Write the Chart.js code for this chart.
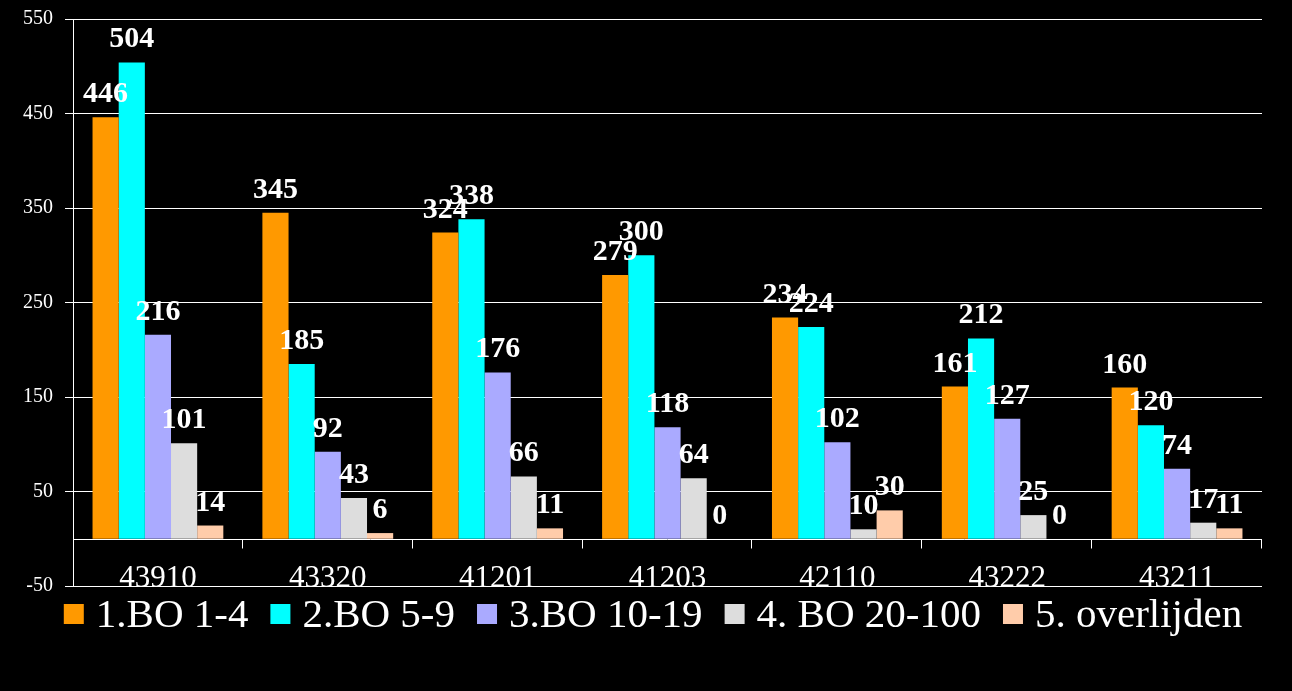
<!DOCTYPE html>
<html>
<head>
<meta charset="utf-8">
<script src="https://cdn.jsdelivr.net/npm/chart.js@4.4.1/dist/chart.umd.min.js"></script>
<style>
	body { margin: 0; background: #000; }
</style>
</head>
<body>
<canvas id="myChart" width="1292" height="691"></canvas>
<script>
var categories = ["43910", "43320", "41201", "41203", "42110", "43222", "43211"];
var seriesNames = ["1.BO 1-4", "2.BO 5-9", "3.BO 10-19", "4. BO 20-100", "5. overlijden"];
var bo1to4 = [446, 345, 324, 279, 234, 161, 160];
var bo5to9 = [504, 185, 338, 300, 224, 212, 120];
var bo10to19 = [216, 92, 176, 118, 102, 127, 74];
var bo20to100 = [101, 43, 66, 64, 10, 25, 17];
var overlijden = [14, 6, 11, 0, 30, 0, 11];
var yTicks = [-50, 50, 150, 250, 350, 450, 550];

var colors = ["#FF9900", "#00FFFF", "#AAAAFF", "#DDDDDD", "#FFCCAA"];
var serif = "'Liberation Serif', 'Times New Roman', serif";

// zero line, category separators, category names, value labels and the legend
var extras = {
	id: "extras",
	afterDatasetsDraw: function(chart) {
		var ctx = chart.ctx;
		var area = chart.chartArea;
		var x = chart.scales.x;
		var y = chart.scales.y;
		var zeroY = Math.round(y.getPixelForValue(0)) + 0.5;
		var half = (x.getPixelForValue(1) - x.getPixelForValue(0)) / 2;

		ctx.save();
		ctx.strokeStyle = "#fff";
		ctx.lineWidth = 1;
		ctx.beginPath();
		ctx.moveTo(area.left, zeroY);
		ctx.lineTo(area.right, zeroY);
		for (var i = 0; i < categories.length; i++) {
			var bx = Math.round(x.getPixelForValue(i) + half) - 0.5;
			ctx.moveTo(bx, zeroY);
			ctx.lineTo(bx, zeroY + 9);
		}
		ctx.stroke();

		ctx.fillStyle = "#fff";
		ctx.textAlign = "center";
		ctx.textBaseline = "alphabetic";
		ctx.font = "31px " + serif;
		var labelY = y.getPixelForValue(yTicks[0]) + 1;
		categories.forEach(function(c, i) {
			ctx.fillText(c, x.getPixelForValue(i), labelY);
		});

		ctx.font = "bold 30px " + serif;
		chart.data.datasets.forEach(function(ds, d) {
			chart.getDatasetMeta(d).data.forEach(function(bar, i) {
				ctx.fillText(String(ds.data[i]), bar.x, bar.y - 15);
			});
		});

		// legend below the plot
		ctx.font = "41px " + serif;
		ctx.textAlign = "left";
		var box = 20, gap = 12, spacing = 22;
		var widths = chart.data.datasets.map(function(ds) {
			return box + gap + ctx.measureText(ds.label).width;
		});
		var total = widths.reduce(function(a, b) { return a + b; }, 0) + spacing * (widths.length - 1);
		var lx = chart.width / 2 + 7 - total / 2;
		var boxTop = area.bottom + 18;
		chart.data.datasets.forEach(function(ds, d) {
			ctx.fillStyle = ds.backgroundColor;
			ctx.fillRect(lx, boxTop, box, box);
			ctx.fillStyle = "#fff";
			ctx.fillText(ds.label, lx + box + gap, boxTop + 23);
			lx += widths[d] + spacing;
		});
		ctx.restore();
	}
};

var seriesData = [bo1to4, bo5to9, bo10to19, bo20to100, overlijden];

new Chart("myChart", {
	type: "bar",
	data: {
		labels: categories,
		datasets: seriesData.map(function(vals, i) {
			return {
				label: seriesNames[i],
				data: vals,
				backgroundColor: colors[i],
				borderWidth: 0,
				categoryPercentage: 0.77,
				barPercentage: 1
			};
		})
	},
	options: {
		responsive: false,
		animation: false,
		layout: { padding: { left: 11, right: 30, top: 19, bottom: 105 } },
		plugins: {
			tooltip: { enabled: false },
			legend: { display: false }
		},
		scales: {
			x: { display: false },
			y: {
				min: yTicks[0],
				max: yTicks[yTicks.length - 1],
				afterFit: function(scale) {
					scale.paddingTop = 0;
					scale.paddingBottom = 0;
				},
				ticks: {
					stepSize: yTicks[1] - yTicks[0],
					color: "#fff",
					padding: 12,
					font: { family: serif, size: 20 }
				},
				grid: { color: "#fff", lineWidth: 1, tickLength: 8 },
				border: { color: "#fff", width: 1 }
			}
		}
	},
	plugins: [extras]
});
</script>
</body>
</html>
